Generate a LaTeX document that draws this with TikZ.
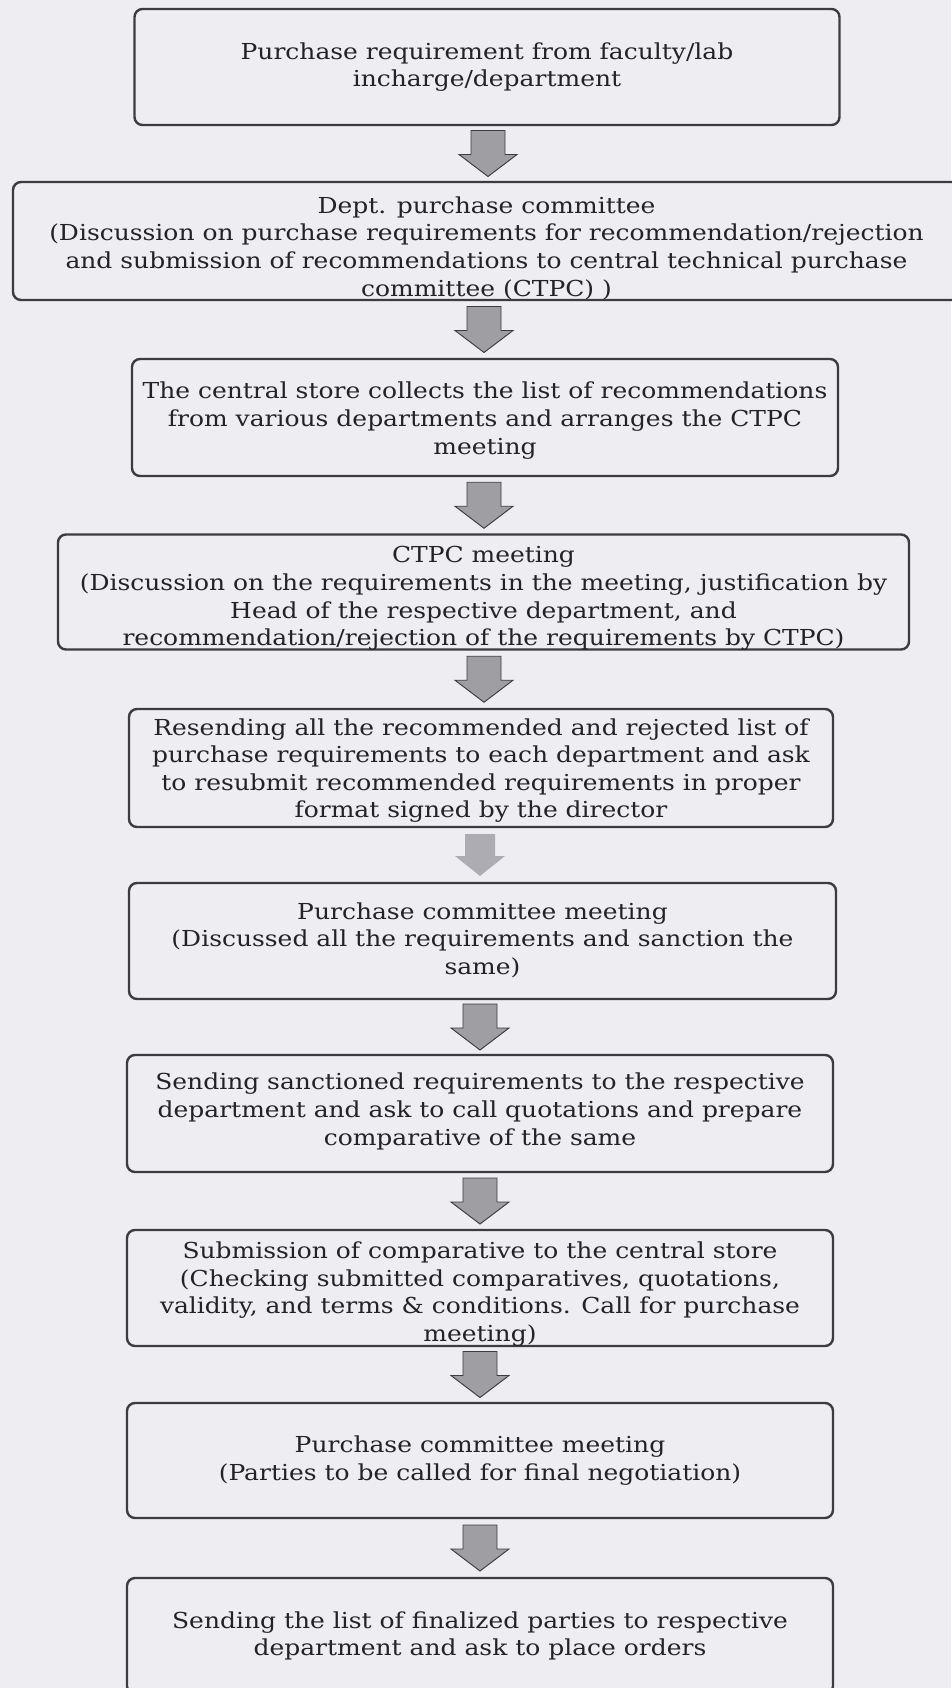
\documentclass[tikz,border=0pt]{standalone}
\usepackage{fontspec}
\setmainfont{DejaVu Serif}[FakeStretch=1.135]
\usetikzlibrary{calc}
\definecolor{bg}{RGB}{238,238,242}
\definecolor{edge}{RGB}{60,60,62}
\definecolor{arrowfill}{RGB}{158,158,163}
\definecolor{arrowlight}{RGB}{172,172,178}
\definecolor{inktext}{RGB}{35,35,38}
\tikzset{
  box/.style 2 args={draw=edge, line width=1.8pt, rounded corners=6pt, fill=bg,
    minimum width=#1*0.75pt, minimum height=#2*0.75pt, inner sep=0pt},
  txt/.style={align=center, inner sep=0pt, text=inktext,
    font=\fontsize{16.5}{20.7}\selectfont},
  pics/downarrow/.style={code={
    \filldraw[fill=arrowfill, draw=edge, line width=0.7pt]
      (-17,-23) -- (17,-23) -- (17,1) -- (29,1) -- (0,23) -- (-29,1) -- (-17,1) -- cycle;}},
  pics/lightarrow/.style={code={
    \fill[arrowlight]
      (-15,-21) -- (15,-21) -- (15,1) -- (25,1) -- (0,21) -- (-25,1) -- (-15,1) -- cycle;}}
}
\begin{document}
\begin{tikzpicture}[x=0.75pt,y=-0.75pt]
\fill[bg] (0,0) rectangle (951,1688);
\useasboundingbox (0,0) rectangle (951,1688);

% boxes
\node[box={705}{116}] (b1) at (487,67) {};
\node[box={947}{118}] (b2) at (486.5,241) {};
\node[box={706}{117}] (b3) at (485,417.5) {};
\node[box={851}{115}] (b4) at (483.5,592) {};
\node[box={704}{118}] (b5) at (481,768) {};
\node[box={707}{116}] (b6) at (482.5,941) {};
\node[box={706}{117}] (b7) at (480,1113.5) {};
\node[box={706}{116}] (b8) at (480,1288) {};
\node[box={706}{115}] (b9) at (480,1460.5) {};
\node[box={706}{116}] (b10) at (480,1636) {};

% texts
\node[txt] (t1) at ($(b1.center)+(0,0)$)
 {Purchase requirement from faculty/lab\\incharge/department};
\node[txt] (t2) at ($(b2.center)+(0,7)$)
 {Dept. purchase committee\\(Discussion on purchase requirements for recommendation/rejection\\and submission of recommendations to central technical purchase\\committee (CTPC) )};
\node[txt] (t3) at ($(b3.center)+(0,3)$)
 {The central store collects the list of recommendations\\from various departments and arranges the CTPC\\meeting};
\node[txt] (t4) at ($(b4.center)+(0,6.5)$)
 {CTPC meeting\\(Discussion on the requirements in the meeting, justification by\\Head of the respective department, and\\recommendation/rejection of the requirements by CTPC)};
\node[txt] (t5) at ($(b5.center)+(0,2.5)$)
 {Resending all the recommended and rejected list of\\purchase requirements to each department and ask\\to resubmit recommended requirements in proper\\format signed by the director};
\node[txt] (t6) at ($(b6.center)+(0,-1)$)
 {Purchase committee meeting\\(Discussed all the requirements and sanction the\\same)};
\node[txt] (t7) at ($(b7.center)+(0,-2)$)
 {Sending sanctioned requirements to the respective\\department and ask to call quotations and prepare\\comparative of the same};
\node[txt] (t8) at ($(b8.center)+(0,6)$)
 {Submission of comparative to the central store\\(Checking submitted comparatives, quotations,\\validity, and terms \& conditions. Call for purchase\\meeting)};
\node[txt] (t9) at ($(b9.center)+(0,0)$)
 {Purchase committee meeting\\(Parties to be called for final negotiation)};
\node[txt] (t10) at ($(b10.center)+(0,0)$)
 {Sending the list of finalized parties to respective\\department and ask to place orders};

% block arrows between boxes
\path ($(b1.south)!.5!(b2.north)$) coordinate (m1);
\path ($(b2.south)!.5!(b3.north)$) coordinate (m2);
\path ($(b3.south)!.5!(b4.north)$) coordinate (m3);
\path ($(b4.south)!.5!(b5.north)$) coordinate (m4);
\path ($(b5.south)!.5!(b6.north)$) coordinate (m5);
\path ($(b6.south)!.5!(b7.north)$) coordinate (m6);
\path ($(b7.south)!.5!(b8.north)$) coordinate (m7);
\path ($(b8.south)!.5!(b9.north)$) coordinate (m8);
\path ($(b9.south)!.5!(b10.north)$) coordinate (m9);
\coordinate (ax) at (488,0);
\coordinate (ax2) at (484,0);
\coordinate (ax3) at (480,0);

\pic at (m1 -| ax) {downarrow};
\pic at (m2 -| ax2) {downarrow};
\pic at (m3 -| ax2) {downarrow};
\pic at (m4 -| ax2) {downarrow};
\pic at (m5 -| ax3) {lightarrow};
\pic at (m6 -| ax3) {downarrow};
\pic at (m7 -| ax3) {downarrow};
\pic at (m8 -| ax3) {downarrow};
\pic at (m9 -| ax3) {downarrow};
\end{tikzpicture}
\end{document}
